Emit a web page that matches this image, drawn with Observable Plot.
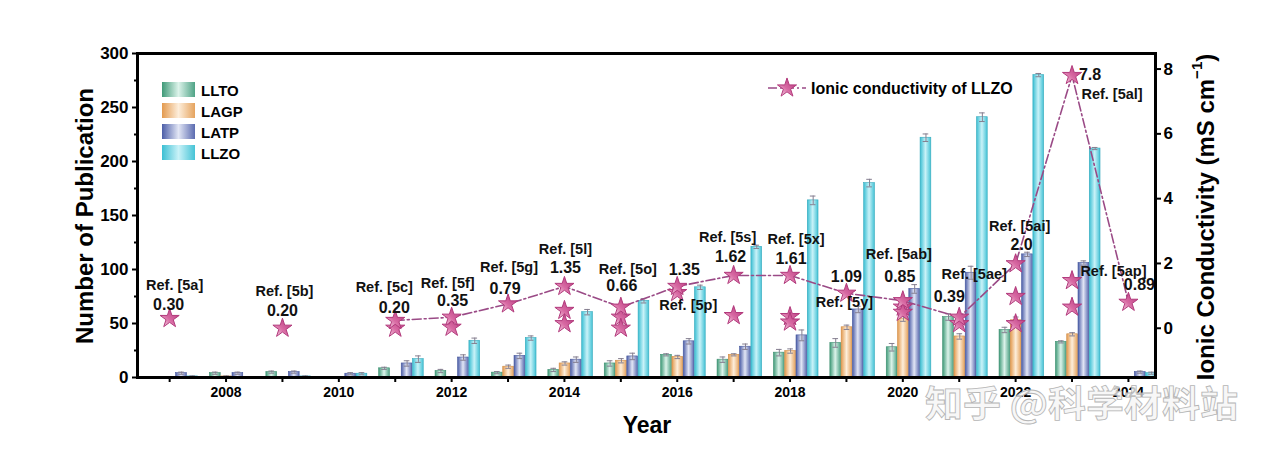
<!DOCTYPE html>
<html><head><meta charset="utf-8">
<script src="https://cdn.jsdelivr.net/npm/d3@7"></script>
<script src="https://cdn.jsdelivr.net/npm/@observablehq/plot@0.6"></script>
<style>
html,body{margin:0;padding:0;background:#fff;}
#chart{width:1269px;height:452px;position:relative;}
</style></head><body>
<svg width="0" height="0" style="position:absolute">
<defs>
 <linearGradient id="g-LLTO" x1="0" x2="1" y1="0" y2="0">
  <stop offset="0" stop-color="#3f9a78"/><stop offset="0.5" stop-color="#dcf3ea"/><stop offset="1" stop-color="#4fa386"/>
 </linearGradient>
 <linearGradient id="g-LAGP" x1="0" x2="1" y1="0" y2="0">
  <stop offset="0" stop-color="#e39a4f"/><stop offset="0.5" stop-color="#fdeedb"/><stop offset="1" stop-color="#e5a35e"/>
 </linearGradient>
 <linearGradient id="g-LATP" x1="0" x2="1" y1="0" y2="0">
  <stop offset="0" stop-color="#4c5ea8"/><stop offset="0.5" stop-color="#e2e6f5"/><stop offset="1" stop-color="#5b6bb0"/>
 </linearGradient>
 <linearGradient id="g-LLZO" x1="0" x2="1" y1="0" y2="0">
  <stop offset="0" stop-color="#3bbfd3"/><stop offset="0.5" stop-color="#c9f2f8"/><stop offset="1" stop-color="#45c3d6"/>
 </linearGradient>
 <linearGradient id="g-star" x1="0" x2="1" y1="1" y2="0">
  <stop offset="0" stop-color="#fbe3ef"/><stop offset="0.45" stop-color="#d86aa3"/><stop offset="1" stop-color="#b3327a"/>
 </linearGradient>
</defs></svg>
<div id="chart"></div>
<script>
// ---------- data ----------
const years = [2007,2008,2009,2010,2011,2012,2013,2014,2015,2016,2017,2018,2019,2020,2021,2022,2023,2024];
const seriesNames = ["LLTO","LAGP","LATP","LLZO"];
const lltoCounts = [0,4,5,0,8.5,6,4.5,7,13,21,16.5,23,32,28,56,44,33,0];
const lagpCounts = [0,1,0,0,0.5,0,10,13,15.5,19,21,24.5,46.5,54.5,38,53,40,0];
const latpCounts = [4,4,5,3.5,13,18.5,20,16.5,19.5,33.5,28.5,39,63,82,97,114,106,5];
const llzoCounts = [1,0,1,3.5,17,34,36.5,60.5,71,83.5,121,164,180,222,241,280,212,4];
const lltoErr = [0,1,1,0,1,1.5,1,1.5,2.5,1,2.5,3,4,3.5,3,2.5,1,0];
const lagpErr = [0,0.5,0,0,0,0,1.5,1.5,2,1.5,1,2,2,2.5,2.5,3,1.5,0];
const latpErr = [1,1,1,1,2.5,2.5,2.5,2.5,3,2.5,2.5,5,3,4,6,2,2,1];
const llzoErr = [0.5,0,0.5,1,3,2.5,2,2.5,2,2,1.5,4,3.5,3.5,4,1.5,1,1];

// Ionic conductivity of LLZO (mS cm^-1)
const refYears = [2007,2009,2011,2012,2013,2014,2015,2016,2017,2018,2019,2020,2021,2022,2023,2024];
const refValues = [0.30,0.0,0.24,0.34,0.75,1.29,0.65,1.29,1.63,1.63,1.08,0.85,0.34,1.99,7.8,0.80];
const refNames = ["Ref. [5a]","Ref. [5b]","Ref. [5c]","Ref. [5f]","Ref. [5g]","Ref. [5l]","Ref. [5o]","Ref. [5p]","Ref. [5s]","Ref. [5x]","Ref. [5y]","Ref. [5ab]","Ref. [5ae]","Ref. [5ai]","Ref. [5al]","Ref. [5ap]"];
const refValueLabels = ["0.30","0.20","0.20","0.35","0.79","1.35","0.66","1.35","1.62","1.61","1.09","0.85","0.39","2.0","7.8","0.89"];
const lineStartYear = 2011;
const extraYears = [2011,2012,2014,2014,2015,2015,2016,2017,2018,2018,2020,2020,2021,2022,2022,2023,2023];
const extraValues = [0.0,0.03,0.55,0.14,0.34,0.0,1.1,0.39,0.36,0.19,0.65,0.49,0.14,0.98,0.14,1.47,0.65];

const leftTicks = [0,50,100,150,200,250,300];
const leftMinor = [25,75,125,175,225,275];
const rightTicks = [0,2,4,6,8];
const xMajor = [2008,2010,2012,2014,2016,2018,2020,2022,2024];
const xMinor = [2007,2009,2011,2013,2015,2017,2019,2021,2023];

// ---------- layout (pixel offsets for annotations) ----------
const refOffsets = [[5,-33],[2,-37],[-11,-33],[-4,-34],[1,-37],[1,-37],[7,-38],[11,19],[-6,-38.5],[6,-36.5],[-2,9.5],[-4,-46],[15,-43],[4,-37],[40,19],[-15,-31]];
const valOffsets = [[-1,-14],[0,-17],[-1,-13],[1,-16],[-3,-15.5],[1,-18.5],[1,-21],[7,-17],[-3,-19],[1,-16.5],[0,-16],[-3,-23.5],[-10,-20],[6,-19],[18,-1],[11,-17]];

// right axis [-1.52, 8.48] mapped onto left [0, 300]
const rMin = -1.52, rScale = 30;
const toLeft = v => (v - rMin) * rScale;
const fromLeft = d => d / rScale + rMin;

const counts = [lltoCounts, lagpCounts, latpCounts, llzoCounts];
const errs = [lltoErr, lagpErr, latpErr, llzoErr];
const groupStart = -0.285, barStep = 0.2, barW = 0.19;
const edgeColors = {LLTO:"#3d8f70", LAGP:"#d08c45", LATP:"#45569c", LLZO:"#35a9bc"};

const barData = seriesNames.map((s, i) => years.map((yr, j) => ({
  series: s, year: yr, value: counts[i][j], err: errs[i][j],
  x1: yr + groupStart + i * barStep, x2: yr + groupStart + i * barStep + barW,
  xc: yr + groupStart + i * barStep + barW / 2
})));
const allBars = barData.flat();
const errBars = allBars.filter(d => d.err > 0 && d.value > 0);

const mainStars = refYears.map((yr, i) => ({year: yr, v: refValues[i], y: toLeft(refValues[i]), ref: refNames[i], lab: refValueLabels[i]}));
const lineData = mainStars.filter(d => d.year >= lineStartYear);
const extraStars = extraYears.map((yr, i) => ({year: yr, y: toLeft(extraValues[i])}));

const FONT = "'Liberation Sans', Arial, Helvetica, sans-serif";

const marks = [];
// bars
barData.forEach((rows, i) => {
  const s = seriesNames[i];
  marks.push(Plot.rect(rows.filter(d => d.value > 0), {
    x1: "x1", x2: "x2", y1: 0, y2: "value",
    fill: `url(#g-${s})`, stroke: edgeColors[s], strokeWidth: 0.6
  }));
});
// error bars
const errColor = "#857f90";
marks.push(Plot.ruleX(errBars, {x: "xc", y1: d => Math.max(0, d.value - d.err), y2: d => d.value + d.err, stroke: errColor, strokeWidth: 1}));
marks.push(Plot.ruleY(errBars, {y: d => d.value + d.err, x1: d => d.xc - 0.05, x2: d => d.xc + 0.05, stroke: errColor, strokeWidth: 1}));
marks.push(Plot.ruleY(errBars.filter(d => d.value - d.err > 0), {y: d => d.value - d.err, x1: d => d.xc - 0.05, x2: d => d.xc + 0.05, stroke: errColor, strokeWidth: 1}));
// conductivity line + stars
marks.push(Plot.line(lineData, {x: "year", y: "y", stroke: "#9a4a86", strokeWidth: 1.6, strokeDasharray: "9,3,2,3"}));
marks.push(Plot.dot(extraStars, {x: "year", y: "y", symbol: "star", r: 6, fill: "url(#g-star)", stroke: "#b23a7c", strokeWidth: 1}));
marks.push(Plot.dot(mainStars, {x: "year", y: "y", symbol: "star", r: 6, fill: "url(#g-star)", stroke: "#b23a7c", strokeWidth: 1}));
// annotations
mainStars.forEach((d, i) => {
  marks.push(Plot.text([d], {x: "year", y: "y", text: "ref", dx: refOffsets[i][0], dy: refOffsets[i][1], fontSize: 14.5, fontWeight: "bold", fill: "#111"}));
  marks.push(Plot.text([d], {x: "year", y: "y", text: "lab", dx: valOffsets[i][0], dy: valOffsets[i][1], fontSize: 16, fontWeight: "bold", fill: "#111"}));
});
// axes
marks.push(Plot.axisY({ticks: leftTicks, tickSize: 5, tickPadding: 4, fontSize: 17, strokeWidth: 2, label: null}));
marks.push(Plot.axisY({ticks: leftMinor, tickSize: 3, tickFormat: () => "", strokeWidth: 2, label: null}));
marks.push(Plot.axisY({anchor: "right", ticks: rightTicks.map(toLeft), tickFormat: d => String(Math.round(fromLeft(d))), tickSize: 5, tickPadding: 3, fontSize: 17, strokeWidth: 2, label: null}));
marks.push(Plot.axisX({ticks: xMajor, tickFormat: d => String(d), tickSize: 5, tickPadding: 5, fontSize: 14, strokeWidth: 2, label: null}));
marks.push(Plot.axisX({ticks: xMinor, tickFormat: () => "", tickSize: 5, strokeWidth: 2, label: null}));
marks.push(Plot.frame({stroke: "#000", strokeWidth: 3}));

const plot = Plot.plot({
  width: 1269, height: 452,
  marginLeft: 137, marginRight: 114, marginTop: 53, marginBottom: 75,
  x: {type: "linear", domain: [2006.43, 2024.48]},
  y: {domain: [0, 300]},
  style: {fontFamily: FONT, fontWeight: "bold", color: "#000", background: "#fff", overflow: "visible"},
  marks
});
document.getElementById("chart").append(plot);

// ---------- titles, legends, watermark ----------
const svg = d3.select(plot);
svg.append("text").attr("transform", "translate(84,216) rotate(-90)")
  .attr("text-anchor", "middle").attr("dominant-baseline", "central")
  .attr("font-family", FONT).attr("font-weight", "bold").attr("font-size", 24).attr("fill", "#000")
  .text("Number of Publication");
const rt = svg.append("text").attr("transform", "translate(1205,217) rotate(-90)")
  .attr("text-anchor", "middle").attr("dominant-baseline", "central")
  .attr("font-family", FONT).attr("font-weight", "bold").attr("font-size", 24).attr("fill", "#000");
rt.append("tspan").text("Ionic Conductivity (mS cm");
rt.append("tspan").attr("font-size", 15).attr("dy", -9).text("−1");
rt.append("tspan").attr("dy", 9).text(")");
svg.append("text").attr("x", 647).attr("y", 425).attr("text-anchor", "middle").attr("dominant-baseline", "central")
  .attr("font-family", FONT).attr("font-weight", "bold").attr("font-size", 23).attr("fill", "#000").text("Year");

// bar legend
seriesNames.forEach((s, i) => {
  const y0 = 82 + i * 21;
  svg.append("rect").attr("x", 162).attr("y", y0).attr("width", 33).attr("height", 15)
    .attr("fill", `url(#g-${s})`);
  svg.append("text").attr("x", 201).attr("y", y0 + 8).attr("text-anchor", "start").attr("dominant-baseline", "central")
    .attr("font-family", FONT).attr("font-weight", "bold").attr("font-size", 15).attr("fill", "#000").text(s);
});
// line legend
svg.append("line").attr("x1", 768).attr("x2", 806).attr("y1", 88).attr("y2", 88)
  .attr("stroke", "#9a4a86").attr("stroke-width", 1.6).attr("stroke-dasharray", "9,3,2,3");
svg.append("path").attr("d", d3.symbol(d3.symbolStar, Math.PI * 36)()).attr("transform", "translate(787,88)")
  .attr("fill", "url(#g-star)").attr("stroke", "#b23a7c");
svg.append("text").attr("x", 811).attr("y", 88).attr("text-anchor", "start").attr("dominant-baseline", "central")
  .attr("font-family", FONT).attr("font-weight", "bold").attr("font-size", 16).attr("fill", "#000")
  .text("Ionic conductivity of LLZO");

// watermark
svg.append("text").attr("x", 925).attr("y", 417).attr("text-anchor", "start")
  .attr("font-family", "'Noto Sans CJK SC', sans-serif").attr("font-size", 36)
  .attr("textLength", 313).attr("lengthAdjust", "spacingAndGlyphs")
  .attr("fill", "#f5f5f5").attr("fill-opacity", 0.8).attr("stroke", "#b5b5b5").attr("stroke-width", 0.8)
  .text("知乎 @科学材料站");
</script>
</body></html>
